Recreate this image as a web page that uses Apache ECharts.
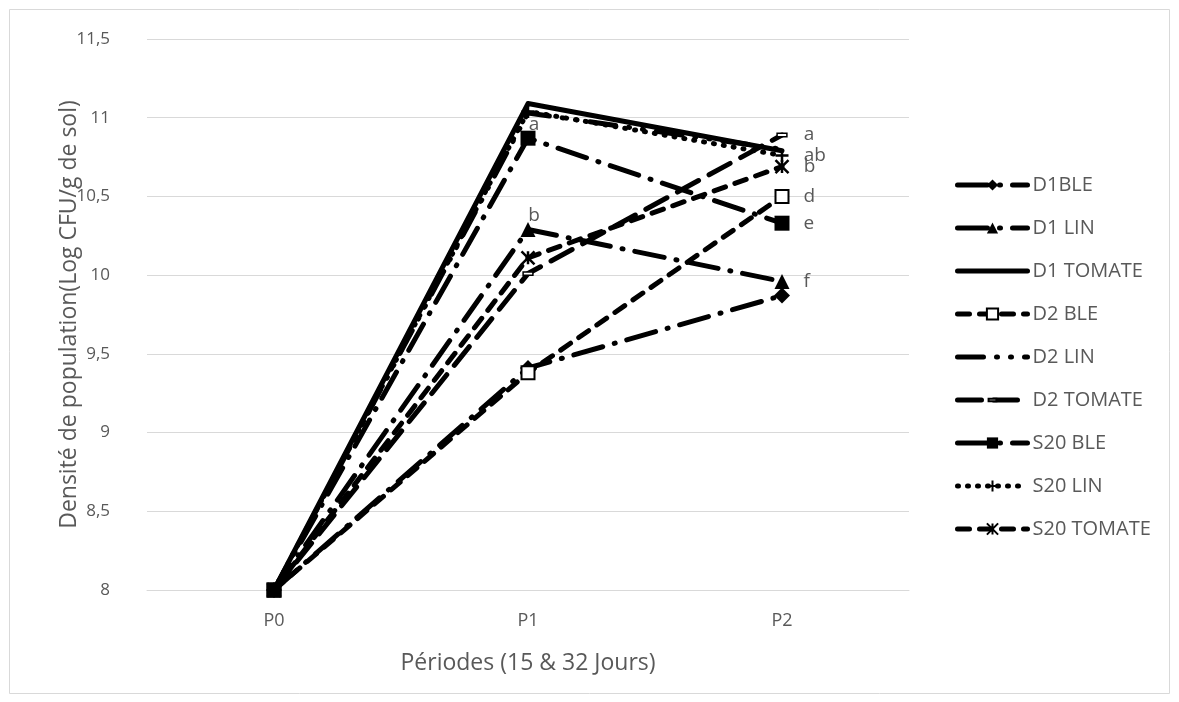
<!DOCTYPE html>
<html><head><meta charset="utf-8">
<script src="https://cdn.jsdelivr.net/npm/echarts@6/dist/echarts.min.js"></script>
<style>html,body{margin:0;padding:0;background:#fff}#c{width:1179px;height:702px}</style>
</head><body><div id="c"></div>
<script>
const categories = ['P0', 'P1', 'P2'];
const seriesNames = ['D1BLE', 'D1 LIN', 'D1 TOMATE', 'D2 BLE', 'D2 LIN', 'D2 TOMATE', 'S20 BLE', 'S20 LIN', 'S20 TOMATE'];
const d1Ble     = [8, 9.41, 9.87];
const d1Lin     = [8, 10.29, 9.96];
const d1Tomate  = [8, 11.09, 10.79];
const d2Ble     = [8, 9.38, 10.50];
const d2Lin     = [8, 11.03, 10.80];
const d2Tomate  = [8, 10.01, 10.89];
const s20Ble    = [8, 10.87, 10.33];
const s20Lin    = [8, 11.04, 10.76];
const s20Tomate = [8, 10.11, 10.69];
// letters of significance shown beside points
const lblD1Ble     = ['', '', ''];
const lblD1Lin     = ['', 'b', 'f'];
const lblD1Tomate  = ['', '', ''];
const lblD2Ble     = ['', '', 'd'];
const lblD2Lin     = ['', '', ''];
const lblD2Tomate  = ['', '', 'a'];
const lblS20Ble    = ['', 'a', 'e'];
const lblS20Lin    = ['', '', 'ab'];
const lblS20Tomate = ['', '', 'b'];
const yTicks = [8, 8.5, 9, 9.5, 10, 10.5, 11, 11.5];

const values = [d1Ble, d1Lin, d1Tomate, d2Ble, d2Lin, d2Tomate, s20Ble, s20Lin, s20Tomate];
const labels = [lblD1Ble, lblD1Lin, lblD1Tomate, lblD2Ble, lblD2Lin, lblD2Tomate, lblS20Ble, lblS20Lin, lblS20Tomate];

const FONT = 'Open Sans';
const GREY = '#595959';
const LW = 5;
const dashDot = [30, 12, 1, 12];
const dashMarker = 'path://M0,0L0,0M10,10L10,10M1.5,3.8L8.5,3.8L8.5,6.2L1.5,6.2Z';
const styles = [
  {dash: dashDot, symbol: 'diamond', size: 16},
  {dash: dashDot, symbol: 'triangle', size: 15},
  {dash: 'solid', symbol: 'none', size: 0},
  {dash: [12, 10], symbol: 'emptyRect', size: 13},
  {dash: [26, 13, 1, 13, 1, 13], symbol: 'none', size: 0},
  {dash: [24, 12], symbol: dashMarker, size: 14, fill: '#fff'},
  {dash: dashDot, symbol: 'rect', size: 15},
  {dash: [1, 9], symbol: 'path://M5,0L5,10M0,5L10,5', size: 13},
  {dash: [12, 10], symbol: 'path://M0,0L10,10M10,0L0,10M5,0L5,10', size: 13}
];

const series = seriesNames.map((name, i) => {
  const st = styles[i];
  const isPath = typeof st.symbol === 'string' && st.symbol.indexOf('path://') === 0;
  return {
    name: name,
    type: 'line',
    data: values[i].map((v, j) => ({
      value: v,
      label: {
        show: labels[i][j] !== '',
        formatter: labels[i][j],
        position: j === 1 ? 'top' : 'right',
        distance: j === 1 ? 0 : 14,
        offset: j === 1 ? [6, 3] : [0, 0]
      }
    })),
    symbol: st.symbol,
    symbolSize: st.size,
    showSymbol: st.symbol !== 'none',
    lineStyle: {color: '#000', width: LW, type: st.dash, cap: 'round', join: 'round'},
    itemStyle: {
      color: st.fill || '#000',
      borderColor: '#000',
      borderWidth: isPath ? (st.fill ? 1.5 : 2.5) : 0
    },
    label: {color: GREY, fontFamily: FONT, fontSize: 19},
    emphasis: {disabled: true},
    z: 2 + i
  };
});

const legendData = seriesNames.map((name, i) => ({
  name: name,
  lineStyle: {width: LW, type: styles[i].dash, cap: 'round', color: '#000'},
  itemStyle: styles[i].symbol === 'none' ? {opacity: 0} : {color: styles[i].fill || '#000', borderColor: '#000'}
}));

const chart = echarts.init(document.getElementById('c'), null, {renderer: 'canvas'});
chart.setOption({
  animation: false,
  backgroundColor: '#fff',
  graphic: [{type: 'rect', shape: {x: 9.5, y: 9.5, width: 1160, height: 684}, style: {fill: 'none', stroke: '#d9d9d9', lineWidth: 1}, silent: true}],
  grid: {left: 147, right: 270, top: 39, bottom: 112},
  legend: {
    orient: 'vertical', left: 950, top: 170, itemWidth: 70, itemHeight: 14, itemGap: 23,
    textStyle: {color: GREY, fontFamily: FONT, fontSize: 20},
    lineStyle: {width: LW},
    data: legendData
  },
  xAxis: {
    type: 'category', data: categories, boundaryGap: true,
    name: 'Périodes (15 & 32 Jours)', nameLocation: 'middle', nameGap: 62, nameMoveOverlap: false,
    nameTextStyle: {color: GREY, fontFamily: FONT, fontSize: 23},
    axisLine: {lineStyle: {color: '#d9d9d9', width: 1}},
    axisTick: {show: false},
    axisLabel: {color: GREY, fontFamily: FONT, fontSize: 18, margin: 22}
  },
  yAxis: {
    type: 'value', min: yTicks[0], max: yTicks[yTicks.length - 1], interval: 0.5,
    name: 'Densité de population(Log CFU/g de sol)', nameLocation: 'middle', nameGap: 66, nameMoveOverlap: false,
    nameTextStyle: {color: GREY, fontFamily: FONT, fontSize: 23},
    axisLine: {show: false}, axisTick: {show: false},
    splitLine: {lineStyle: {color: '#d9d9d9', width: 1}},
    axisLabel: {color: GREY, fontFamily: FONT, fontSize: 17, margin: 37,
      formatter: v => String(v).replace('.', ',')}
  },
  series: series
});
</script></body></html>
